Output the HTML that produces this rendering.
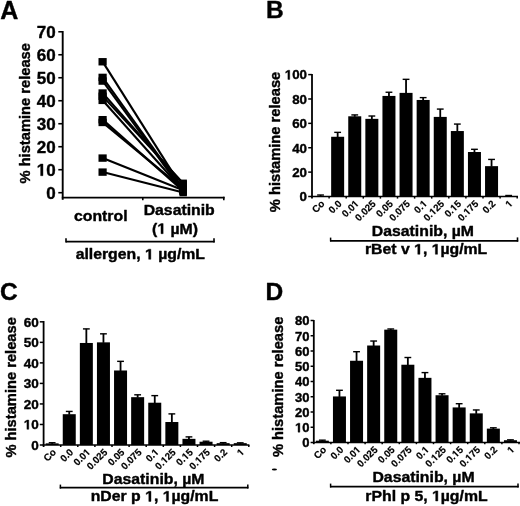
<!DOCTYPE html><html><head><meta charset="utf-8"><style>html,body{margin:0;padding:0;background:#fff;}svg{display:block;will-change:transform;}text{font-family:"Liberation Sans",sans-serif;font-weight:bold;fill:#000;stroke:#000;stroke-width:0.4px;stroke-linejoin:round;}.h1{fill:none;stroke:none;}</style></head><body>
<svg width="520" height="506" viewBox="0 0 520 506">
<g stroke="#000" fill="none" stroke-linecap="butt">
<line x1="62.70" y1="31.00" x2="62.70" y2="199.80" stroke-width="1.9"/>
<line x1="58.30" y1="192.70" x2="62.70" y2="192.70" stroke-width="1.6"/>
<line x1="58.30" y1="169.71" x2="62.70" y2="169.71" stroke-width="1.6"/>
<line x1="58.30" y1="146.72" x2="62.70" y2="146.72" stroke-width="1.6"/>
<line x1="58.30" y1="123.73" x2="62.70" y2="123.73" stroke-width="1.6"/>
<line x1="58.30" y1="100.74" x2="62.70" y2="100.74" stroke-width="1.6"/>
<line x1="58.30" y1="77.75" x2="62.70" y2="77.75" stroke-width="1.6"/>
<line x1="58.30" y1="54.76" x2="62.70" y2="54.76" stroke-width="1.6"/>
<line x1="58.30" y1="31.77" x2="62.70" y2="31.77" stroke-width="1.6"/>
<line x1="61.80" y1="197.70" x2="224.60" y2="197.70" stroke-width="1.8"/>
<line x1="142.80" y1="197.70" x2="142.80" y2="200.20" stroke-width="1.6"/>
<line x1="223.80" y1="196.80" x2="223.80" y2="200.20" stroke-width="1.6"/>
<line x1="65.80" y1="241.60" x2="214.60" y2="241.60" stroke-width="1.8"/>
<line x1="66.00" y1="238.30" x2="66.00" y2="242.50" stroke-width="1.6"/>
<line x1="214.00" y1="238.30" x2="214.00" y2="242.50" stroke-width="1.6"/>
<line x1="102.60" y1="61.66" x2="183.20" y2="189.39" stroke-width="2.1"/>
<line x1="102.60" y1="77.29" x2="183.20" y2="190.19" stroke-width="2.1"/>
<line x1="102.60" y1="80.97" x2="183.20" y2="191.32" stroke-width="2.1"/>
<line x1="102.60" y1="92.92" x2="183.20" y2="184.19" stroke-width="2.1"/>
<line x1="102.60" y1="96.14" x2="183.20" y2="183.18" stroke-width="2.1"/>
<line x1="102.60" y1="100.28" x2="183.20" y2="190.49" stroke-width="2.1"/>
<line x1="102.60" y1="119.59" x2="183.20" y2="190.91" stroke-width="2.1"/>
<line x1="102.60" y1="122.35" x2="183.20" y2="188.91" stroke-width="2.1"/>
<line x1="102.60" y1="157.99" x2="183.20" y2="190.19" stroke-width="2.1"/>
<line x1="102.60" y1="172.01" x2="183.20" y2="192.49" stroke-width="2.1"/>
<line x1="312.00" y1="74.00" x2="312.00" y2="198.60" stroke-width="1.8"/>
<line x1="308.20" y1="196.50" x2="312.00" y2="196.50" stroke-width="1.5"/>
<line x1="308.20" y1="172.12" x2="312.00" y2="172.12" stroke-width="1.5"/>
<line x1="308.20" y1="147.74" x2="312.00" y2="147.74" stroke-width="1.5"/>
<line x1="308.20" y1="123.36" x2="312.00" y2="123.36" stroke-width="1.5"/>
<line x1="308.20" y1="98.98" x2="312.00" y2="98.98" stroke-width="1.5"/>
<line x1="308.20" y1="74.60" x2="312.00" y2="74.60" stroke-width="1.5"/>
<line x1="311.10" y1="196.50" x2="518.00" y2="196.50" stroke-width="1.3"/>
<line x1="329.10" y1="196.50" x2="329.10" y2="198.60" stroke-width="1.5"/>
<line x1="346.20" y1="196.50" x2="346.20" y2="198.60" stroke-width="1.5"/>
<line x1="363.30" y1="196.50" x2="363.30" y2="198.60" stroke-width="1.5"/>
<line x1="380.40" y1="196.50" x2="380.40" y2="198.60" stroke-width="1.5"/>
<line x1="397.50" y1="196.50" x2="397.50" y2="198.60" stroke-width="1.5"/>
<line x1="414.60" y1="196.50" x2="414.60" y2="198.60" stroke-width="1.5"/>
<line x1="431.70" y1="196.50" x2="431.70" y2="198.60" stroke-width="1.5"/>
<line x1="448.80" y1="196.50" x2="448.80" y2="198.60" stroke-width="1.5"/>
<line x1="465.90" y1="196.50" x2="465.90" y2="198.60" stroke-width="1.5"/>
<line x1="483.00" y1="196.50" x2="483.00" y2="198.60" stroke-width="1.5"/>
<line x1="500.10" y1="196.50" x2="500.10" y2="198.60" stroke-width="1.5"/>
<line x1="517.20" y1="196.50" x2="517.20" y2="198.60" stroke-width="1.5"/>
<line x1="330.00" y1="240.85" x2="518.20" y2="240.85" stroke-width="1.9"/>
<line x1="330.60" y1="237.60" x2="330.60" y2="241.30" stroke-width="1.5"/>
<line x1="517.50" y1="237.40" x2="517.50" y2="241.60" stroke-width="1.6"/>
<line x1="43.60" y1="321.00" x2="43.60" y2="447.00" stroke-width="1.8"/>
<line x1="39.80" y1="445.00" x2="43.60" y2="445.00" stroke-width="1.5"/>
<line x1="39.80" y1="424.47" x2="43.60" y2="424.47" stroke-width="1.5"/>
<line x1="39.80" y1="403.94" x2="43.60" y2="403.94" stroke-width="1.5"/>
<line x1="39.80" y1="383.41" x2="43.60" y2="383.41" stroke-width="1.5"/>
<line x1="39.80" y1="362.88" x2="43.60" y2="362.88" stroke-width="1.5"/>
<line x1="39.80" y1="342.35" x2="43.60" y2="342.35" stroke-width="1.5"/>
<line x1="39.80" y1="321.82" x2="43.60" y2="321.82" stroke-width="1.5"/>
<line x1="42.70" y1="445.00" x2="249.40" y2="445.00" stroke-width="1.4"/>
<line x1="60.70" y1="445.00" x2="60.70" y2="447.00" stroke-width="1.5"/>
<line x1="77.80" y1="445.00" x2="77.80" y2="447.00" stroke-width="1.5"/>
<line x1="94.90" y1="445.00" x2="94.90" y2="447.00" stroke-width="1.5"/>
<line x1="112.00" y1="445.00" x2="112.00" y2="447.00" stroke-width="1.5"/>
<line x1="129.10" y1="445.00" x2="129.10" y2="447.00" stroke-width="1.5"/>
<line x1="146.20" y1="445.00" x2="146.20" y2="447.00" stroke-width="1.5"/>
<line x1="163.30" y1="445.00" x2="163.30" y2="447.00" stroke-width="1.5"/>
<line x1="180.40" y1="445.00" x2="180.40" y2="447.00" stroke-width="1.5"/>
<line x1="197.50" y1="445.00" x2="197.50" y2="447.00" stroke-width="1.5"/>
<line x1="214.60" y1="445.00" x2="214.60" y2="447.00" stroke-width="1.5"/>
<line x1="231.70" y1="445.00" x2="231.70" y2="447.00" stroke-width="1.5"/>
<line x1="248.80" y1="445.00" x2="248.80" y2="447.00" stroke-width="1.5"/>
<line x1="59.80" y1="487.70" x2="248.40" y2="487.70" stroke-width="1.8"/>
<line x1="60.40" y1="484.60" x2="60.40" y2="488.60" stroke-width="1.5"/>
<line x1="247.80" y1="484.60" x2="247.80" y2="488.60" stroke-width="1.5"/>
<line x1="313.80" y1="320.00" x2="313.80" y2="444.20" stroke-width="1.8"/>
<line x1="310.60" y1="442.50" x2="313.80" y2="442.50" stroke-width="1.5"/>
<line x1="310.60" y1="427.25" x2="313.80" y2="427.25" stroke-width="1.5"/>
<line x1="310.60" y1="412.00" x2="313.80" y2="412.00" stroke-width="1.5"/>
<line x1="310.60" y1="396.75" x2="313.80" y2="396.75" stroke-width="1.5"/>
<line x1="310.60" y1="381.50" x2="313.80" y2="381.50" stroke-width="1.5"/>
<line x1="310.60" y1="366.25" x2="313.80" y2="366.25" stroke-width="1.5"/>
<line x1="310.60" y1="351.00" x2="313.80" y2="351.00" stroke-width="1.5"/>
<line x1="310.60" y1="335.75" x2="313.80" y2="335.75" stroke-width="1.5"/>
<line x1="310.60" y1="320.50" x2="313.80" y2="320.50" stroke-width="1.5"/>
<line x1="312.90" y1="442.50" x2="520.50" y2="442.50" stroke-width="1.4"/>
<line x1="330.90" y1="442.50" x2="330.90" y2="444.20" stroke-width="1.5"/>
<line x1="348.00" y1="442.50" x2="348.00" y2="444.20" stroke-width="1.5"/>
<line x1="365.10" y1="442.50" x2="365.10" y2="444.20" stroke-width="1.5"/>
<line x1="382.20" y1="442.50" x2="382.20" y2="444.20" stroke-width="1.5"/>
<line x1="399.30" y1="442.50" x2="399.30" y2="444.20" stroke-width="1.5"/>
<line x1="416.40" y1="442.50" x2="416.40" y2="444.20" stroke-width="1.5"/>
<line x1="433.50" y1="442.50" x2="433.50" y2="444.20" stroke-width="1.5"/>
<line x1="450.60" y1="442.50" x2="450.60" y2="444.20" stroke-width="1.5"/>
<line x1="467.70" y1="442.50" x2="467.70" y2="444.20" stroke-width="1.5"/>
<line x1="484.80" y1="442.50" x2="484.80" y2="444.20" stroke-width="1.5"/>
<line x1="501.90" y1="442.50" x2="501.90" y2="444.20" stroke-width="1.5"/>
<line x1="519.00" y1="442.50" x2="519.00" y2="444.20" stroke-width="1.5"/>
<line x1="330.00" y1="486.60" x2="518.60" y2="486.60" stroke-width="1.8"/>
<line x1="330.60" y1="483.60" x2="330.60" y2="487.50" stroke-width="1.5"/>
<line x1="518.00" y1="483.60" x2="518.00" y2="487.50" stroke-width="1.5"/>
</g>
<g fill="#000">
<rect x="98.50" y="58.06" width="8.20" height="7.40"/>
<rect x="98.50" y="73.69" width="8.20" height="7.40"/>
<rect x="98.50" y="77.37" width="8.20" height="7.40"/>
<rect x="98.50" y="89.32" width="8.20" height="7.40"/>
<rect x="98.50" y="92.54" width="8.20" height="7.40"/>
<rect x="98.50" y="96.68" width="8.20" height="7.40"/>
<rect x="98.50" y="115.99" width="8.20" height="7.40"/>
<rect x="98.50" y="118.75" width="8.20" height="7.40"/>
<rect x="98.50" y="154.39" width="8.20" height="7.40"/>
<rect x="98.50" y="168.41" width="8.20" height="7.40"/>
<rect x="179.50" y="185.79" width="7.40" height="7.40"/>
<rect x="179.50" y="186.59" width="7.40" height="7.40"/>
<rect x="179.50" y="187.72" width="7.40" height="7.40"/>
<rect x="179.50" y="180.59" width="7.40" height="7.40"/>
<rect x="179.50" y="179.58" width="7.40" height="7.40"/>
<rect x="179.50" y="186.89" width="7.40" height="7.40"/>
<rect x="179.50" y="187.31" width="7.40" height="7.40"/>
<rect x="179.50" y="185.31" width="7.40" height="7.40"/>
<rect x="179.50" y="186.59" width="7.40" height="7.40"/>
<rect x="179.50" y="188.89" width="7.40" height="7.40"/>
<rect x="314.05" y="196.13" width="13.00" height="0.37"/>
<rect x="319.65" y="194.92" width="1.80" height="1.72"/>
<rect x="317.15" y="194.32" width="6.80" height="1.40"/>
<rect x="331.15" y="136.77" width="13.00" height="59.73"/>
<rect x="336.75" y="132.26" width="1.80" height="5.01"/>
<rect x="334.25" y="131.66" width="6.80" height="1.40"/>
<rect x="348.25" y="116.29" width="13.00" height="80.21"/>
<rect x="353.85" y="114.83" width="1.80" height="1.96"/>
<rect x="351.35" y="114.23" width="6.80" height="1.40"/>
<rect x="365.35" y="118.85" width="13.00" height="77.65"/>
<rect x="370.95" y="115.92" width="1.80" height="3.43"/>
<rect x="368.45" y="115.32" width="6.80" height="1.40"/>
<rect x="382.45" y="95.93" width="13.00" height="100.57"/>
<rect x="388.05" y="92.15" width="1.80" height="4.28"/>
<rect x="385.55" y="91.55" width="6.80" height="1.40"/>
<rect x="399.55" y="92.88" width="13.00" height="103.62"/>
<rect x="405.15" y="79.23" width="1.80" height="14.15"/>
<rect x="402.65" y="78.63" width="6.80" height="1.40"/>
<rect x="416.65" y="99.96" width="13.00" height="96.54"/>
<rect x="422.25" y="97.52" width="1.80" height="2.94"/>
<rect x="419.75" y="96.92" width="6.80" height="1.40"/>
<rect x="433.75" y="116.90" width="13.00" height="79.60"/>
<rect x="439.35" y="108.98" width="1.80" height="8.42"/>
<rect x="436.85" y="108.38" width="6.80" height="1.40"/>
<rect x="450.85" y="131.04" width="13.00" height="65.46"/>
<rect x="456.45" y="123.97" width="1.80" height="7.57"/>
<rect x="453.95" y="123.37" width="6.80" height="1.40"/>
<rect x="467.95" y="152.01" width="13.00" height="44.49"/>
<rect x="473.55" y="149.20" width="1.80" height="3.30"/>
<rect x="471.05" y="148.60" width="6.80" height="1.40"/>
<rect x="485.05" y="166.15" width="13.00" height="30.35"/>
<rect x="490.65" y="159.32" width="1.80" height="7.33"/>
<rect x="488.15" y="158.72" width="6.80" height="1.40"/>
<rect x="502.15" y="196.13" width="13.00" height="0.37"/>
<rect x="507.75" y="195.40" width="1.80" height="1.23"/>
<rect x="505.25" y="194.80" width="6.80" height="1.40"/>
<rect x="45.65" y="443.36" width="13.00" height="1.64"/>
<rect x="51.25" y="442.64" width="1.80" height="1.22"/>
<rect x="48.75" y="442.04" width="6.80" height="1.40"/>
<rect x="62.75" y="414.20" width="13.00" height="30.79"/>
<rect x="68.35" y="411.33" width="1.80" height="3.37"/>
<rect x="65.85" y="410.73" width="6.80" height="1.40"/>
<rect x="79.85" y="342.97" width="13.00" height="102.03"/>
<rect x="85.45" y="328.80" width="1.80" height="14.67"/>
<rect x="82.95" y="328.20" width="6.80" height="1.40"/>
<rect x="96.95" y="342.35" width="13.00" height="102.65"/>
<rect x="102.55" y="333.73" width="1.80" height="9.12"/>
<rect x="100.05" y="333.13" width="6.80" height="1.40"/>
<rect x="114.05" y="370.48" width="13.00" height="74.52"/>
<rect x="119.65" y="361.24" width="1.80" height="9.74"/>
<rect x="117.15" y="360.64" width="6.80" height="1.40"/>
<rect x="131.15" y="397.17" width="13.00" height="47.83"/>
<rect x="136.75" y="394.70" width="1.80" height="2.96"/>
<rect x="134.25" y="394.10" width="6.80" height="1.40"/>
<rect x="148.25" y="402.71" width="13.00" height="42.29"/>
<rect x="153.85" y="395.52" width="1.80" height="7.69"/>
<rect x="151.35" y="394.92" width="6.80" height="1.40"/>
<rect x="165.35" y="422.01" width="13.00" height="22.99"/>
<rect x="170.95" y="413.79" width="1.80" height="8.71"/>
<rect x="168.45" y="413.19" width="6.80" height="1.40"/>
<rect x="182.45" y="438.84" width="13.00" height="6.16"/>
<rect x="188.05" y="436.79" width="1.80" height="2.55"/>
<rect x="185.55" y="436.19" width="6.80" height="1.40"/>
<rect x="199.55" y="441.72" width="13.00" height="3.28"/>
<rect x="205.15" y="441.10" width="1.80" height="1.12"/>
<rect x="202.65" y="440.50" width="6.80" height="1.40"/>
<rect x="216.65" y="443.15" width="13.00" height="1.85"/>
<rect x="222.25" y="442.54" width="1.80" height="1.12"/>
<rect x="219.75" y="441.94" width="6.80" height="1.40"/>
<rect x="233.75" y="443.15" width="13.00" height="1.85"/>
<rect x="239.35" y="442.74" width="1.80" height="0.91"/>
<rect x="236.85" y="442.14" width="6.80" height="1.40"/>
<rect x="315.85" y="440.67" width="13.00" height="1.83"/>
<rect x="321.45" y="440.06" width="1.80" height="1.11"/>
<rect x="318.95" y="439.46" width="6.80" height="1.40"/>
<rect x="332.95" y="396.44" width="13.00" height="46.05"/>
<rect x="338.55" y="390.19" width="1.80" height="6.75"/>
<rect x="336.05" y="389.59" width="6.80" height="1.40"/>
<rect x="350.05" y="360.76" width="13.00" height="81.74"/>
<rect x="355.65" y="351.61" width="1.80" height="9.65"/>
<rect x="353.15" y="351.01" width="6.80" height="1.40"/>
<rect x="367.15" y="345.51" width="13.00" height="96.99"/>
<rect x="372.75" y="340.94" width="1.80" height="5.07"/>
<rect x="370.25" y="340.33" width="6.80" height="1.40"/>
<rect x="384.25" y="329.65" width="13.00" height="112.85"/>
<rect x="389.85" y="328.89" width="1.80" height="1.26"/>
<rect x="387.35" y="328.29" width="6.80" height="1.40"/>
<rect x="401.35" y="364.73" width="13.00" height="77.77"/>
<rect x="406.95" y="357.41" width="1.80" height="7.82"/>
<rect x="404.45" y="356.81" width="6.80" height="1.40"/>
<rect x="418.45" y="377.84" width="13.00" height="64.66"/>
<rect x="424.05" y="372.50" width="1.80" height="5.84"/>
<rect x="421.55" y="371.90" width="6.80" height="1.40"/>
<rect x="435.55" y="395.23" width="13.00" height="47.27"/>
<rect x="441.15" y="393.70" width="1.80" height="2.03"/>
<rect x="438.65" y="393.10" width="6.80" height="1.40"/>
<rect x="452.65" y="407.43" width="13.00" height="35.07"/>
<rect x="458.25" y="403.61" width="1.80" height="4.31"/>
<rect x="455.75" y="403.01" width="6.80" height="1.40"/>
<rect x="469.75" y="413.37" width="13.00" height="29.13"/>
<rect x="475.35" y="409.87" width="1.80" height="4.01"/>
<rect x="472.85" y="409.26" width="6.80" height="1.40"/>
<rect x="486.85" y="428.62" width="13.00" height="13.88"/>
<rect x="492.45" y="427.71" width="1.80" height="1.42"/>
<rect x="489.95" y="427.11" width="6.80" height="1.40"/>
<rect x="503.95" y="440.21" width="13.00" height="2.29"/>
<rect x="509.55" y="439.75" width="1.80" height="0.96"/>
<rect x="507.05" y="439.15" width="6.80" height="1.40"/>
<ellipse cx="274.4" cy="469.5" rx="2.6" ry="0.9"/>
</g>
<text id="t0" x="0.20" y="18.90" font-size="25" text-anchor="start">A</text>
<text id="t1" x="266.00" y="18.00" font-size="24.5" text-anchor="start">B</text>
<text id="t2" x="0.00" y="300.00" font-size="24.5" text-anchor="start">C</text>
<text id="t3" x="265.60" y="300.20" font-size="24.5" text-anchor="start">D</text>
<text id="t4" x="55.60" y="198.70" font-size="17" text-anchor="end">0</text>
<text id="t5" x="55.60" y="175.71" font-size="17" text-anchor="end"><tspan class="h1">1</tspan>0</text>
<text id="t6" x="55.60" y="152.72" font-size="17" text-anchor="end">20</text>
<text id="t7" x="55.60" y="129.73" font-size="17" text-anchor="end">30</text>
<text id="t8" x="55.60" y="106.74" font-size="17" text-anchor="end">40</text>
<text id="t9" x="55.60" y="83.75" font-size="17" text-anchor="end">50</text>
<text id="t10" x="55.60" y="60.76" font-size="17" text-anchor="end">60</text>
<text id="t11" x="55.60" y="37.77" font-size="17" text-anchor="end">70</text>
<text id="t12" x="0.00" y="0.00" font-size="14.7" text-anchor="middle" transform="translate(30.3,113.3) rotate(-90)">% histamine release</text>
<text id="t13" x="0.00" y="0.00" font-size="14.7" text-anchor="middle" transform="translate(100.80,221.00) scale(1.075,1)">control</text>
<text id="t14" x="0.00" y="0.00" font-size="14.7" text-anchor="middle" transform="translate(179.20,215.00) scale(1.075,1)">Dasatinib</text>
<text id="t15" x="0.00" y="0.00" font-size="14.7" text-anchor="middle" transform="translate(175.00,233.70) scale(1.075,1)">(<tspan class="h1">1</tspan> µM)</text>
<text id="t16" x="0.00" y="0.00" font-size="14.7" text-anchor="middle" transform="translate(140.30,259.30) scale(1.075,1)">allergen, <tspan class="h1">1</tspan> µg/mL</text>
<text id="t17" x="307.00" y="201.30" font-size="13.3" text-anchor="end">0</text>
<text id="t18" x="307.00" y="176.92" font-size="13.3" text-anchor="end">20</text>
<text id="t19" x="307.00" y="152.54" font-size="13.3" text-anchor="end">40</text>
<text id="t20" x="307.00" y="128.16" font-size="13.3" text-anchor="end">60</text>
<text id="t21" x="307.00" y="103.78" font-size="13.3" text-anchor="end">80</text>
<text id="t22" x="307.00" y="79.40" font-size="13.3" text-anchor="end"><tspan class="h1">1</tspan>00</text>
<text id="t23" x="0.00" y="0.00" font-size="14.7" text-anchor="middle" transform="translate(279.6,142.0) rotate(-90)">% histamine release</text>
<text id="t24" x="0.00" y="0.00" font-size="9.8" text-anchor="end" transform="translate(325.15,204.30) rotate(-45)" style="stroke-width:0.2px">Co</text>
<text id="t25" x="0.00" y="0.00" font-size="9.8" text-anchor="end" transform="translate(342.25,204.30) rotate(-45)" style="stroke-width:0.2px">0.0</text>
<text id="t26" x="0.00" y="0.00" font-size="9.8" text-anchor="end" transform="translate(359.35,204.30) rotate(-45)" style="stroke-width:0.2px">0.0<tspan class="h1">1</tspan></text>
<text id="t27" x="0.00" y="0.00" font-size="9.8" text-anchor="end" transform="translate(376.45,204.30) rotate(-45)" style="stroke-width:0.2px">0.025</text>
<text id="t28" x="0.00" y="0.00" font-size="9.8" text-anchor="end" transform="translate(393.55,204.30) rotate(-45)" style="stroke-width:0.2px">0.05</text>
<text id="t29" x="0.00" y="0.00" font-size="9.8" text-anchor="end" transform="translate(410.65,204.30) rotate(-45)" style="stroke-width:0.2px">0.075</text>
<text id="t30" x="0.00" y="0.00" font-size="9.8" text-anchor="end" transform="translate(427.75,204.30) rotate(-45)" style="stroke-width:0.2px">0.<tspan class="h1">1</tspan></text>
<text id="t31" x="0.00" y="0.00" font-size="9.8" text-anchor="end" transform="translate(444.85,204.30) rotate(-45)" style="stroke-width:0.2px">0.<tspan class="h1">1</tspan>25</text>
<text id="t32" x="0.00" y="0.00" font-size="9.8" text-anchor="end" transform="translate(461.95,204.30) rotate(-45)" style="stroke-width:0.2px">0.<tspan class="h1">1</tspan>5</text>
<text id="t33" x="0.00" y="0.00" font-size="9.8" text-anchor="end" transform="translate(479.05,204.30) rotate(-45)" style="stroke-width:0.2px">0.<tspan class="h1">1</tspan>75</text>
<text id="t34" x="0.00" y="0.00" font-size="9.8" text-anchor="end" transform="translate(496.15,204.30) rotate(-45)" style="stroke-width:0.2px">0.2</text>
<text id="t35" x="0.00" y="0.00" font-size="9.8" text-anchor="end" transform="translate(513.25,204.30) rotate(-45)" style="stroke-width:0.2px"><tspan class="h1">1</tspan></text>
<text id="t36" x="0.00" y="0.00" font-size="14.7" text-anchor="middle" transform="translate(422.90,236.10) scale(1.075,1)">Dasatinib, µM</text>
<text id="t37" x="0.00" y="0.00" font-size="14.7" text-anchor="middle" transform="translate(426.10,254.30) scale(1.075,1)">rBet v <tspan class="h1">1</tspan>, <tspan class="h1">1</tspan>µg/mL</text>
<text id="t38" x="38.80" y="449.85" font-size="13.5" text-anchor="end">0</text>
<text id="t39" x="38.80" y="429.32" font-size="13.5" text-anchor="end"><tspan class="h1">1</tspan>0</text>
<text id="t40" x="38.80" y="408.79" font-size="13.5" text-anchor="end">20</text>
<text id="t41" x="38.80" y="388.26" font-size="13.5" text-anchor="end">30</text>
<text id="t42" x="38.80" y="367.73" font-size="13.5" text-anchor="end">40</text>
<text id="t43" x="38.80" y="347.20" font-size="13.5" text-anchor="end">50</text>
<text id="t44" x="38.80" y="326.67" font-size="13.5" text-anchor="end">60</text>
<text id="t45" x="0.00" y="0.00" font-size="14.7" text-anchor="middle" transform="translate(16.4,387.4) rotate(-90)">% histamine release</text>
<text id="t46" x="0.00" y="0.00" font-size="9.8" text-anchor="end" transform="translate(56.75,452.80) rotate(-45)" style="stroke-width:0.2px">Co</text>
<text id="t47" x="0.00" y="0.00" font-size="9.8" text-anchor="end" transform="translate(73.85,452.80) rotate(-45)" style="stroke-width:0.2px">0.0</text>
<text id="t48" x="0.00" y="0.00" font-size="9.8" text-anchor="end" transform="translate(90.95,452.80) rotate(-45)" style="stroke-width:0.2px">0.0<tspan class="h1">1</tspan></text>
<text id="t49" x="0.00" y="0.00" font-size="9.8" text-anchor="end" transform="translate(108.05,452.80) rotate(-45)" style="stroke-width:0.2px">0.025</text>
<text id="t50" x="0.00" y="0.00" font-size="9.8" text-anchor="end" transform="translate(125.15,452.80) rotate(-45)" style="stroke-width:0.2px">0.05</text>
<text id="t51" x="0.00" y="0.00" font-size="9.8" text-anchor="end" transform="translate(142.25,452.80) rotate(-45)" style="stroke-width:0.2px">0.075</text>
<text id="t52" x="0.00" y="0.00" font-size="9.8" text-anchor="end" transform="translate(159.35,452.80) rotate(-45)" style="stroke-width:0.2px">0.<tspan class="h1">1</tspan></text>
<text id="t53" x="0.00" y="0.00" font-size="9.8" text-anchor="end" transform="translate(176.45,452.80) rotate(-45)" style="stroke-width:0.2px">0.<tspan class="h1">1</tspan>25</text>
<text id="t54" x="0.00" y="0.00" font-size="9.8" text-anchor="end" transform="translate(193.55,452.80) rotate(-45)" style="stroke-width:0.2px">0.<tspan class="h1">1</tspan>5</text>
<text id="t55" x="0.00" y="0.00" font-size="9.8" text-anchor="end" transform="translate(210.65,452.80) rotate(-45)" style="stroke-width:0.2px">0.<tspan class="h1">1</tspan>75</text>
<text id="t56" x="0.00" y="0.00" font-size="9.8" text-anchor="end" transform="translate(227.75,452.80) rotate(-45)" style="stroke-width:0.2px">0.2</text>
<text id="t57" x="0.00" y="0.00" font-size="9.8" text-anchor="end" transform="translate(244.85,452.80) rotate(-45)" style="stroke-width:0.2px"><tspan class="h1">1</tspan></text>
<text id="t58" x="0.00" y="0.00" font-size="14.7" text-anchor="middle" transform="translate(153.40,483.60) scale(1.075,1)">Dasatinib, µM</text>
<text id="t59" x="0.00" y="0.00" font-size="14.7" text-anchor="middle" transform="translate(154.50,501.40) scale(1.075,1)">nDer p <tspan class="h1">1</tspan>, <tspan class="h1">1</tspan>µg/mL</text>
<text id="t60" x="309.50" y="447.40" font-size="13.0" text-anchor="end">0</text>
<text id="t61" x="309.50" y="432.15" font-size="13.0" text-anchor="end"><tspan class="h1">1</tspan>0</text>
<text id="t62" x="309.50" y="416.90" font-size="13.0" text-anchor="end">20</text>
<text id="t63" x="309.50" y="401.65" font-size="13.0" text-anchor="end">30</text>
<text id="t64" x="309.50" y="386.40" font-size="13.0" text-anchor="end">40</text>
<text id="t65" x="309.50" y="371.15" font-size="13.0" text-anchor="end">50</text>
<text id="t66" x="309.50" y="355.90" font-size="13.0" text-anchor="end">60</text>
<text id="t67" x="309.50" y="340.65" font-size="13.0" text-anchor="end">70</text>
<text id="t68" x="309.50" y="325.40" font-size="13.0" text-anchor="end">80</text>
<text id="t69" x="0.00" y="0.00" font-size="14.7" text-anchor="middle" transform="translate(283.0,386.9) rotate(-90)">% histamine release</text>
<text id="t70" x="0.00" y="0.00" font-size="9.8" text-anchor="end" transform="translate(326.95,450.30) rotate(-45)" style="stroke-width:0.2px">Co</text>
<text id="t71" x="0.00" y="0.00" font-size="9.8" text-anchor="end" transform="translate(344.05,450.30) rotate(-45)" style="stroke-width:0.2px">0.0</text>
<text id="t72" x="0.00" y="0.00" font-size="9.8" text-anchor="end" transform="translate(361.15,450.30) rotate(-45)" style="stroke-width:0.2px">0.0<tspan class="h1">1</tspan></text>
<text id="t73" x="0.00" y="0.00" font-size="9.8" text-anchor="end" transform="translate(378.25,450.30) rotate(-45)" style="stroke-width:0.2px">0.025</text>
<text id="t74" x="0.00" y="0.00" font-size="9.8" text-anchor="end" transform="translate(395.35,450.30) rotate(-45)" style="stroke-width:0.2px">0.05</text>
<text id="t75" x="0.00" y="0.00" font-size="9.8" text-anchor="end" transform="translate(412.45,450.30) rotate(-45)" style="stroke-width:0.2px">0.075</text>
<text id="t76" x="0.00" y="0.00" font-size="9.8" text-anchor="end" transform="translate(429.55,450.30) rotate(-45)" style="stroke-width:0.2px">0.<tspan class="h1">1</tspan></text>
<text id="t77" x="0.00" y="0.00" font-size="9.8" text-anchor="end" transform="translate(446.65,450.30) rotate(-45)" style="stroke-width:0.2px">0.<tspan class="h1">1</tspan>25</text>
<text id="t78" x="0.00" y="0.00" font-size="9.8" text-anchor="end" transform="translate(463.75,450.30) rotate(-45)" style="stroke-width:0.2px">0.<tspan class="h1">1</tspan>5</text>
<text id="t79" x="0.00" y="0.00" font-size="9.8" text-anchor="end" transform="translate(480.85,450.30) rotate(-45)" style="stroke-width:0.2px">0.<tspan class="h1">1</tspan>75</text>
<text id="t80" x="0.00" y="0.00" font-size="9.8" text-anchor="end" transform="translate(497.95,450.30) rotate(-45)" style="stroke-width:0.2px">0.2</text>
<text id="t81" x="0.00" y="0.00" font-size="9.8" text-anchor="end" transform="translate(515.05,450.30) rotate(-45)" style="stroke-width:0.2px"><tspan class="h1">1</tspan></text>
<text id="t82" x="0.00" y="0.00" font-size="14.7" text-anchor="middle" transform="translate(423.50,482.30) scale(1.075,1)">Dasatinib, µM</text>
<text id="t83" x="0.00" y="0.00" font-size="14.7" text-anchor="middle" transform="translate(426.45,501.00) scale(1.075,1)">rPhl p 5, <tspan class="h1">1</tspan>µg/mL</text>
<g fill="#000" stroke="#000" stroke-linejoin="round"><path d="M478 0V1170L140 959V1180L493 1409H759V0Z" transform="translate(36.662,175.710) scale(0.008301,-0.008301)" stroke-width="48.19"/><path d="M478 0V1170L140 959V1180L493 1409H759V0Z" transform="translate(175.00,233.70) scale(1.075,1) translate(-16.473,0.000) scale(0.007178,-0.007178)" stroke-width="55.73"/><path d="M478 0V1170L140 959V1180L493 1409H759V0Z" transform="translate(140.30,259.30) scale(1.075,1) translate(4.350,0.000) scale(0.007178,-0.007178)" stroke-width="55.73"/><path d="M478 0V1170L140 959V1180L493 1409H759V0Z" transform="translate(284.797,79.400) scale(0.006494,-0.006494)" stroke-width="61.59"/><path d="M478 0V1170L140 959V1180L493 1409H759V0Z" transform="translate(359.35,204.30) rotate(-45) translate(-5.453,0.000) scale(0.004785,-0.004785)" stroke-width="41.80"/><path d="M478 0V1170L140 959V1180L493 1409H759V0Z" transform="translate(427.75,204.30) rotate(-45) translate(-5.453,0.000) scale(0.004785,-0.004785)" stroke-width="41.80"/><path d="M478 0V1170L140 959V1180L493 1409H759V0Z" transform="translate(444.85,204.30) rotate(-45) translate(-16.359,0.000) scale(0.004785,-0.004785)" stroke-width="41.80"/><path d="M478 0V1170L140 959V1180L493 1409H759V0Z" transform="translate(461.95,204.30) rotate(-45) translate(-10.906,0.000) scale(0.004785,-0.004785)" stroke-width="41.80"/><path d="M478 0V1170L140 959V1180L493 1409H759V0Z" transform="translate(479.05,204.30) rotate(-45) translate(-16.359,0.000) scale(0.004785,-0.004785)" stroke-width="41.80"/><path d="M478 0V1170L140 959V1180L493 1409H759V0Z" transform="translate(513.25,204.30) rotate(-45) translate(-5.453,0.000) scale(0.004785,-0.004785)" stroke-width="41.80"/><path d="M478 0V1170L140 959V1180L493 1409H759V0Z" transform="translate(426.10,254.30) scale(1.075,1) translate(-11.175,0.000) scale(0.007178,-0.007178)" stroke-width="55.73"/><path d="M478 0V1170L140 959V1180L493 1409H759V0Z" transform="translate(426.10,254.30) scale(1.075,1) translate(5.170,0.000) scale(0.007178,-0.007178)" stroke-width="55.73"/><path d="M478 0V1170L140 959V1180L493 1409H759V0Z" transform="translate(23.769,429.320) scale(0.006592,-0.006592)" stroke-width="60.68"/><path d="M478 0V1170L140 959V1180L493 1409H759V0Z" transform="translate(90.95,452.80) rotate(-45) translate(-5.453,0.000) scale(0.004785,-0.004785)" stroke-width="41.80"/><path d="M478 0V1170L140 959V1180L493 1409H759V0Z" transform="translate(159.35,452.80) rotate(-45) translate(-5.453,0.000) scale(0.004785,-0.004785)" stroke-width="41.80"/><path d="M478 0V1170L140 959V1180L493 1409H759V0Z" transform="translate(176.45,452.80) rotate(-45) translate(-16.359,0.000) scale(0.004785,-0.004785)" stroke-width="41.80"/><path d="M478 0V1170L140 959V1180L493 1409H759V0Z" transform="translate(193.55,452.80) rotate(-45) translate(-10.906,0.000) scale(0.004785,-0.004785)" stroke-width="41.80"/><path d="M478 0V1170L140 959V1180L493 1409H759V0Z" transform="translate(210.65,452.80) rotate(-45) translate(-16.359,0.000) scale(0.004785,-0.004785)" stroke-width="41.80"/><path d="M478 0V1170L140 959V1180L493 1409H759V0Z" transform="translate(244.85,452.80) rotate(-45) translate(-5.453,0.000) scale(0.004785,-0.004785)" stroke-width="41.80"/><path d="M478 0V1170L140 959V1180L493 1409H759V0Z" transform="translate(154.50,501.40) scale(1.075,1) translate(-8.729,0.000) scale(0.007178,-0.007178)" stroke-width="55.73"/><path d="M478 0V1170L140 959V1180L493 1409H759V0Z" transform="translate(154.50,501.40) scale(1.075,1) translate(7.616,0.000) scale(0.007178,-0.007178)" stroke-width="55.73"/><path d="M478 0V1170L140 959V1180L493 1409H759V0Z" transform="translate(295.031,432.150) scale(0.006348,-0.006348)" stroke-width="63.02"/><path d="M478 0V1170L140 959V1180L493 1409H759V0Z" transform="translate(361.15,450.30) rotate(-45) translate(-5.453,0.000) scale(0.004785,-0.004785)" stroke-width="41.80"/><path d="M478 0V1170L140 959V1180L493 1409H759V0Z" transform="translate(429.55,450.30) rotate(-45) translate(-5.453,0.000) scale(0.004785,-0.004785)" stroke-width="41.80"/><path d="M478 0V1170L140 959V1180L493 1409H759V0Z" transform="translate(446.65,450.30) rotate(-45) translate(-16.359,0.000) scale(0.004785,-0.004785)" stroke-width="41.80"/><path d="M478 0V1170L140 959V1180L493 1409H759V0Z" transform="translate(463.75,450.30) rotate(-45) translate(-10.906,0.000) scale(0.004785,-0.004785)" stroke-width="41.80"/><path d="M478 0V1170L140 959V1180L493 1409H759V0Z" transform="translate(480.85,450.30) rotate(-45) translate(-16.359,0.000) scale(0.004785,-0.004785)" stroke-width="41.80"/><path d="M478 0V1170L140 959V1180L493 1409H759V0Z" transform="translate(515.05,450.30) rotate(-45) translate(-5.453,0.000) scale(0.004785,-0.004785)" stroke-width="41.80"/><path d="M478 0V1170L140 959V1180L493 1409H759V0Z" transform="translate(426.45,501.00) scale(1.075,1) translate(5.155,0.000) scale(0.007178,-0.007178)" stroke-width="55.73"/></g>
</svg></body></html>
